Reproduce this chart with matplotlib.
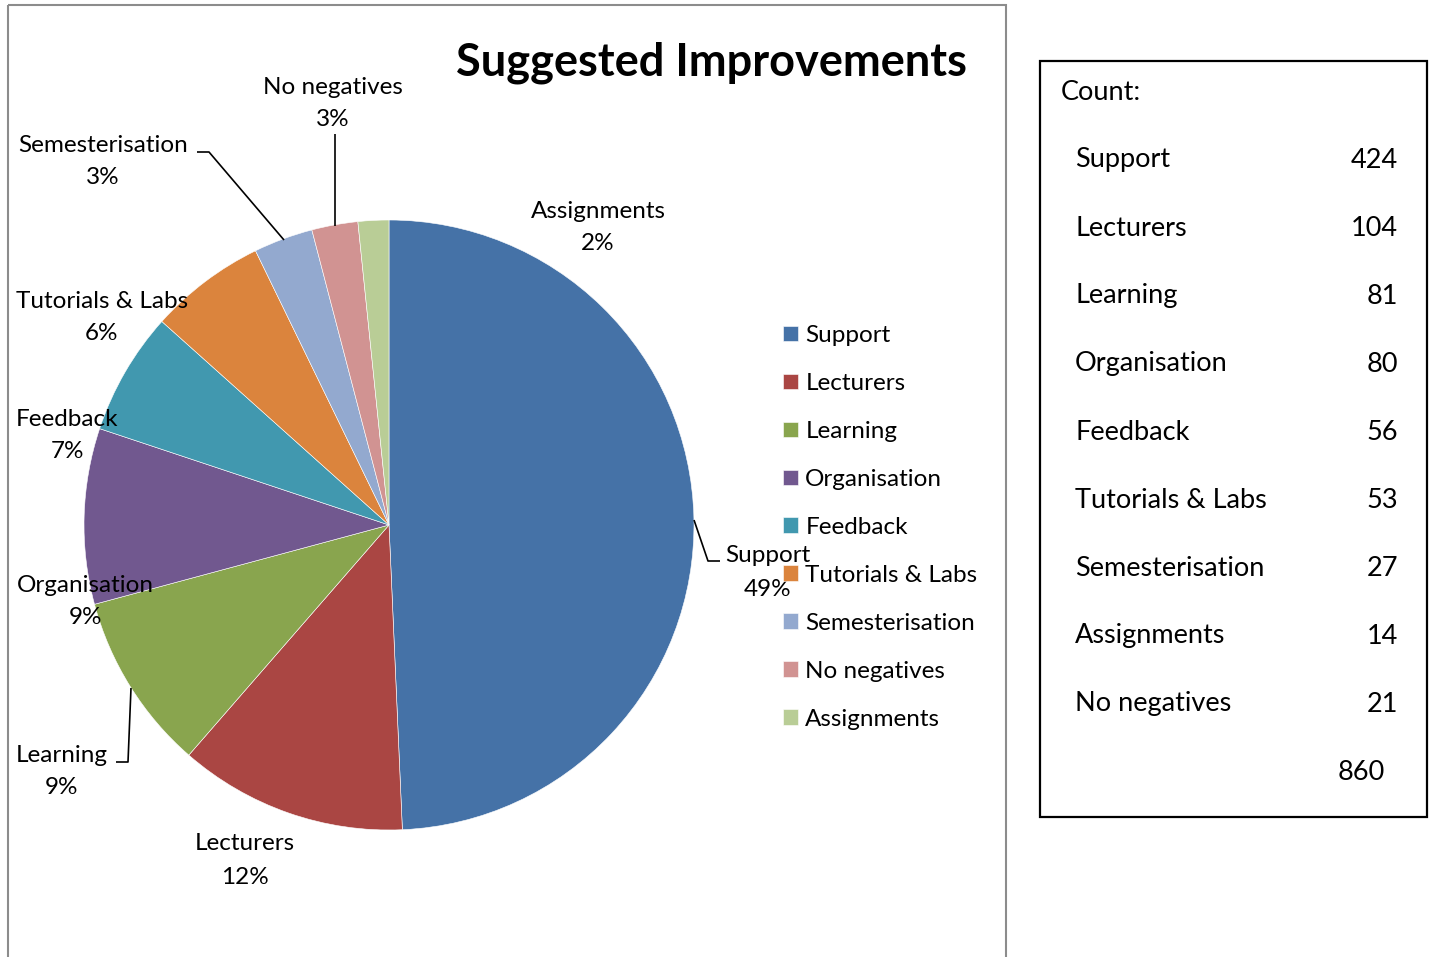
import matplotlib.pyplot as plt
from matplotlib.patches import Rectangle

# data
categories = ["Support", "Lecturers", "Learning", "Organisation", "Feedback",
              "Tutorials & Labs", "Semesterisation", "No negatives", "Assignments"]
counts = [424, 104, 81, 80, 56, 53, 27, 21, 14]
pct_labels = ["49%", "12%", "9%", "9%", "7%", "6%", "3%", "3%", "2%"]
colors = ["#4572A7", "#AA4643", "#89A54E", "#71588F", "#4198AF",
          "#DB843D", "#93A9CF", "#D19392", "#B9CD96"]

# table order in the text box (as in the source sheet)
table_names = ["Support", "Lecturers", "Learning", "Organisation", "Feedback",
               "Tutorials & Labs", "Semesterisation", "Assignments", "No negatives"]
table_counts = [424, 104, 81, 80, 56, 53, 27, 14, 21]

plt.rcParams['font.family'] = ['Lato', 'DejaVu Sans']

W, H = 1435, 957
fig = plt.figure(figsize=(W / 100, H / 100), dpi=100)
ax = fig.add_axes([0, 0, 1, 1])

# pie in pixel coordinates (y axis inverted -> counterclock=True draws clockwise)
cx, cy, r = 389, 525, 305
wedges, _ = ax.pie(counts, colors=colors, startangle=-90, counterclock=True,
                   center=(cx, cy), radius=r, frame=True,
                   wedgeprops=dict(edgecolor='white', linewidth=0.4))
ax.set_xlim(0, W)
ax.set_ylim(H, 0)
ax.set_aspect('equal')
ax.axis('off')

# data labels: position of the first line (name); percent goes one line below
label_pos = [(768, 556), (245, 844), (62, 755), (85, 585), (67, 419),
             (102, 301), (103, 145), (333, 87), (598, 211)]
for name, pct, (lx, ly) in zip(categories, pct_labels, label_pos):
    ax.text(lx, ly, name, ha='center', va='center', fontsize=17.5)
    ax.text(lx, ly + 33, pct, ha='center', va='center', fontsize=17.5)

# leader lines
leaders = [
    ([694, 708, 720], [520, 561, 561]),   # Support
    ([116, 128, 131], [762, 762, 688]),   # Learning
    ([197, 209, 284], [152, 152, 240]),   # Semesterisation
    ([335, 335], [134, 226]),             # No negatives
]
for xs, ys in leaders:
    ax.plot(xs, ys, color='black', lw=1.2, solid_capstyle='butt')

# title
ax.text(712, 63, "Suggested Improvements", ha='center', va='center',
        fontsize=32.5, fontweight='bold', color='black')

# legend
leg = ax.legend(wedges, categories, loc='upper left',
                bbox_to_anchor=(783 / W, 1 - 325 / H), bbox_transform=fig.transFigure,
                frameon=False, fontsize=17.5, handlelength=0.62, handleheight=0.62,
                handletextpad=0.3, labelspacing=1.11, borderpad=0, borderaxespad=0)

# chart area border
ax.add_patch(Rectangle((8, 5), 998, 980, fill=False, edgecolor='#8c8c8c',
                       lw=1.5, clip_on=True))

# count box
ax.add_patch(Rectangle((1040, 61), 387, 756, fill=False, edgecolor='black', lw=1.6))
ax.text(1061, 93, "Count:", ha='left', va='center', fontsize=19.5)
row_y = 160
for name, c in zip(table_names, table_counts):
    ax.text(1075, row_y, name, ha='left', va='center', fontsize=19.5)
    ax.text(1398, row_y, str(c), ha='right', va='center', fontsize=19.5)
    row_y += 68
ax.text(1385, row_y, str(sum(table_counts)), ha='right', va='center', fontsize=19.5)

fig.savefig("out.png", dpi=100)
